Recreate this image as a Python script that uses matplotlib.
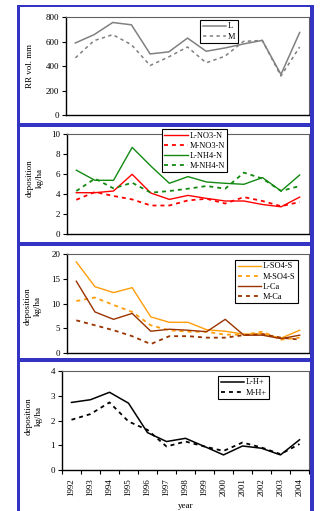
import matplotlib
matplotlib.use('Agg')
import matplotlib.pyplot as plt
from matplotlib.patches import Rectangle

plt.rcParams['font.family'] = ['Liberation Serif', 'DejaVu Serif']
plt.rcParams['font.size'] = 6.5

W, H = 321, 511

years = ['1992', '1993', '1994', '1995', '1996', '1997', '1998',
         '1999', '2000', '2001', '2002', '2003', '2004']

rr_L = [591, 659, 759, 740, 501, 518, 631, 523, 550, 583, 612, 333, 677]
rr_M = [469, 610, 659, 577, 406, 477, 558, 428, 482, 604, 612, 320, 558]

no3_L = [4.13, 4.13, 4.3, 5.97, 4.1, 3.46, 3.86, 3.56, 3.3, 3.3, 2.95, 2.72, 3.69]
no3_M = [3.42, 4.2, 3.8, 3.46, 2.85, 2.85, 3.36, 3.52, 3.05, 3.69, 3.3, 2.78, 3.2]
nh4_L = [6.38, 5.37, 5.37, 8.66, 6.8, 5.07, 5.74, 5.2, 5.07, 4.97, 5.64, 4.3, 5.9]
nh4_M = [4.3, 5.54, 4.56, 5.13, 4.13, 4.3, 4.53, 4.8, 4.53, 6.14, 5.54, 4.3, 4.8]

so4_L = [18.4, 13.4, 12.2, 13.2, 7.3, 6.2, 6.2, 4.7, 4.4, 3.8, 3.9, 3.0, 4.6]
so4_M = [10.5, 11.2, 9.7, 8.3, 5.6, 4.6, 4.3, 4.3, 3.7, 3.7, 4.3, 2.7, 3.1]
ca_L = [14.5, 8.3, 6.8, 8.0, 4.4, 4.8, 4.6, 4.3, 6.8, 3.6, 3.6, 2.9, 3.6]
ca_M = [6.6, 5.6, 4.6, 3.4, 1.8, 3.4, 3.4, 3.1, 3.1, 3.6, 3.8, 3.1, 2.7]

h_L = [2.73, 2.84, 3.14, 2.7, 1.51, 1.15, 1.28, 0.95, 0.61, 0.97, 0.88, 0.61, 1.22]
h_M = [2.03, 2.26, 2.73, 1.96, 1.62, 0.95, 1.15, 0.95, 0.77, 1.11, 0.91, 0.64, 1.05]

BLUE = '#3333c4'
DASH = (0, (2.2, 2.2))


def px_axes(fig, left, right, top, bottom):
    return fig.add_axes([left / W, 1 - bottom / H, (right - left) / W,
                         (bottom - top) / H])


def style_axes(ax, ymax, ystep, show_x=False):
    x = range(len(years))
    ax.set_xlim(-0.5, len(years) - 0.5)
    ax.set_ylim(0, ymax)
    ax.set_yticks(range(0, ymax + 1, ystep))
    ax.tick_params(axis='y', direction='out', length=3, width=0.8, pad=2)
    for s in ['top', 'right']:
        ax.spines[s].set_color('#606060')
        ax.spines[s].set_linewidth(0.8)
    for s in ['left', 'bottom']:
        ax.spines[s].set_linewidth(1.0)
    if show_x:
        ax.set_xticks(list(x))
        ax.set_xticklabels(years, rotation=90)
        ax.set_xticks([i - 0.5 for i in range(len(years) + 1)], minor=True)
        ax.tick_params(axis='x', which='major', length=0, pad=6)
        ax.tick_params(axis='x', which='minor', direction='out',
                       length=3, width=0.8)
    else:
        ax.set_xticks([])


def add_legend(ax, fig, x, y):
    leg = ax.legend(loc='upper left', bbox_to_anchor=(x / W, 1 - y / H),
                    bbox_transform=fig.transFigure, borderaxespad=0,
                    fancybox=False, framealpha=1, edgecolor='black',
                    handlelength=2.8, handletextpad=0.2, labelspacing=0.25,
                    borderpad=0.3, fontsize=6)
    leg.get_frame().set_linewidth(0.8)
    return leg


def ylabel(fig, text, x, y):
    fig.text(x / W, 1 - y / H, text, rotation=90, ha='center', va='center',
             multialignment='center', linespacing=1.35)


def main():
    fig = plt.figure(figsize=(W / 100, H / 100), dpi=100)
    x = range(len(years))

    # blue frames
    for (x0, y0, w, h) in [(17, 5, 3, 506), (310, 5, 4, 506),
                           (17, 5, 297, 2.5), (17, 123, 297, 4),
                           (17, 242, 297, 4), (17, 358, 297, 4)]:
        fig.patches.append(Rectangle((x0 / W, 1 - (y0 + h) / H), w / W, h / H,
                                     transform=fig.transFigure,
                                     facecolor=BLUE, edgecolor='none'))

    # panel 1
    ax1 = px_axes(fig, 66, 309, 17.5, 115)
    ax1.plot(x, rr_L, color='#808080', lw=1.1, label='L')
    ax1.plot(x, rr_M, color='#808080', lw=1.1, ls=DASH, label='M')
    style_axes(ax1, 800, 200)
    ylabel(fig, 'RR vol. mm', 30, 66)
    add_legend(ax1, fig, 200, 20)

    # panel 2
    ax2 = px_axes(fig, 67, 309, 134, 234)
    ax2.plot(x, no3_L, color='#ff0000', lw=1.0, label='L-NO3-N')
    ax2.plot(x, no3_M, color='#ff0000', lw=1.3, ls=DASH, label='M-NO3-N')
    ax2.plot(x, nh4_L, color='#128a12', lw=1.0, label='L-NH4-N')
    ax2.plot(x, nh4_M, color='#128a12', lw=1.3, ls=DASH, label='M-NH4-N')
    style_axes(ax2, 10, 2)
    ylabel(fig, 'deposition\nkg/ha', 35, 178)
    add_legend(ax2, fig, 162, 129)

    # panel 3
    ax3 = px_axes(fig, 67, 309, 254, 353)
    ax3.plot(x, so4_L, color='#ff9d0a', lw=1.0, label='L-SO4-S')
    ax3.plot(x, so4_M, color='#ff9d0a', lw=1.3, ls=DASH, label='M-SO4-S')
    ax3.plot(x, ca_L, color='#993300', lw=1.0, label='L-Ca')
    ax3.plot(x, ca_M, color='#993300', lw=1.3, ls=DASH, label='M-Ca')
    style_axes(ax3, 20, 5)
    ylabel(fig, 'deposition\nkg/ha', 33, 306)
    add_legend(ax3, fig, 235, 260)

    # panel 4
    ax4 = px_axes(fig, 62, 309, 371, 470)
    ax4.plot(x, h_L, color='black', lw=1.1, label='L-H+')
    ax4.plot(x, h_M, color='black', lw=1.3, ls=DASH, label='M-H+')
    style_axes(ax4, 4, 1, show_x=True)
    ylabel(fig, 'deposition\nkg/ha', 34, 416)
    ax4.set_xlabel('year', labelpad=4)
    add_legend(ax4, fig, 218, 376)

    fig.savefig('out.png', dpi=100)


if __name__ == '__main__':
    main()
